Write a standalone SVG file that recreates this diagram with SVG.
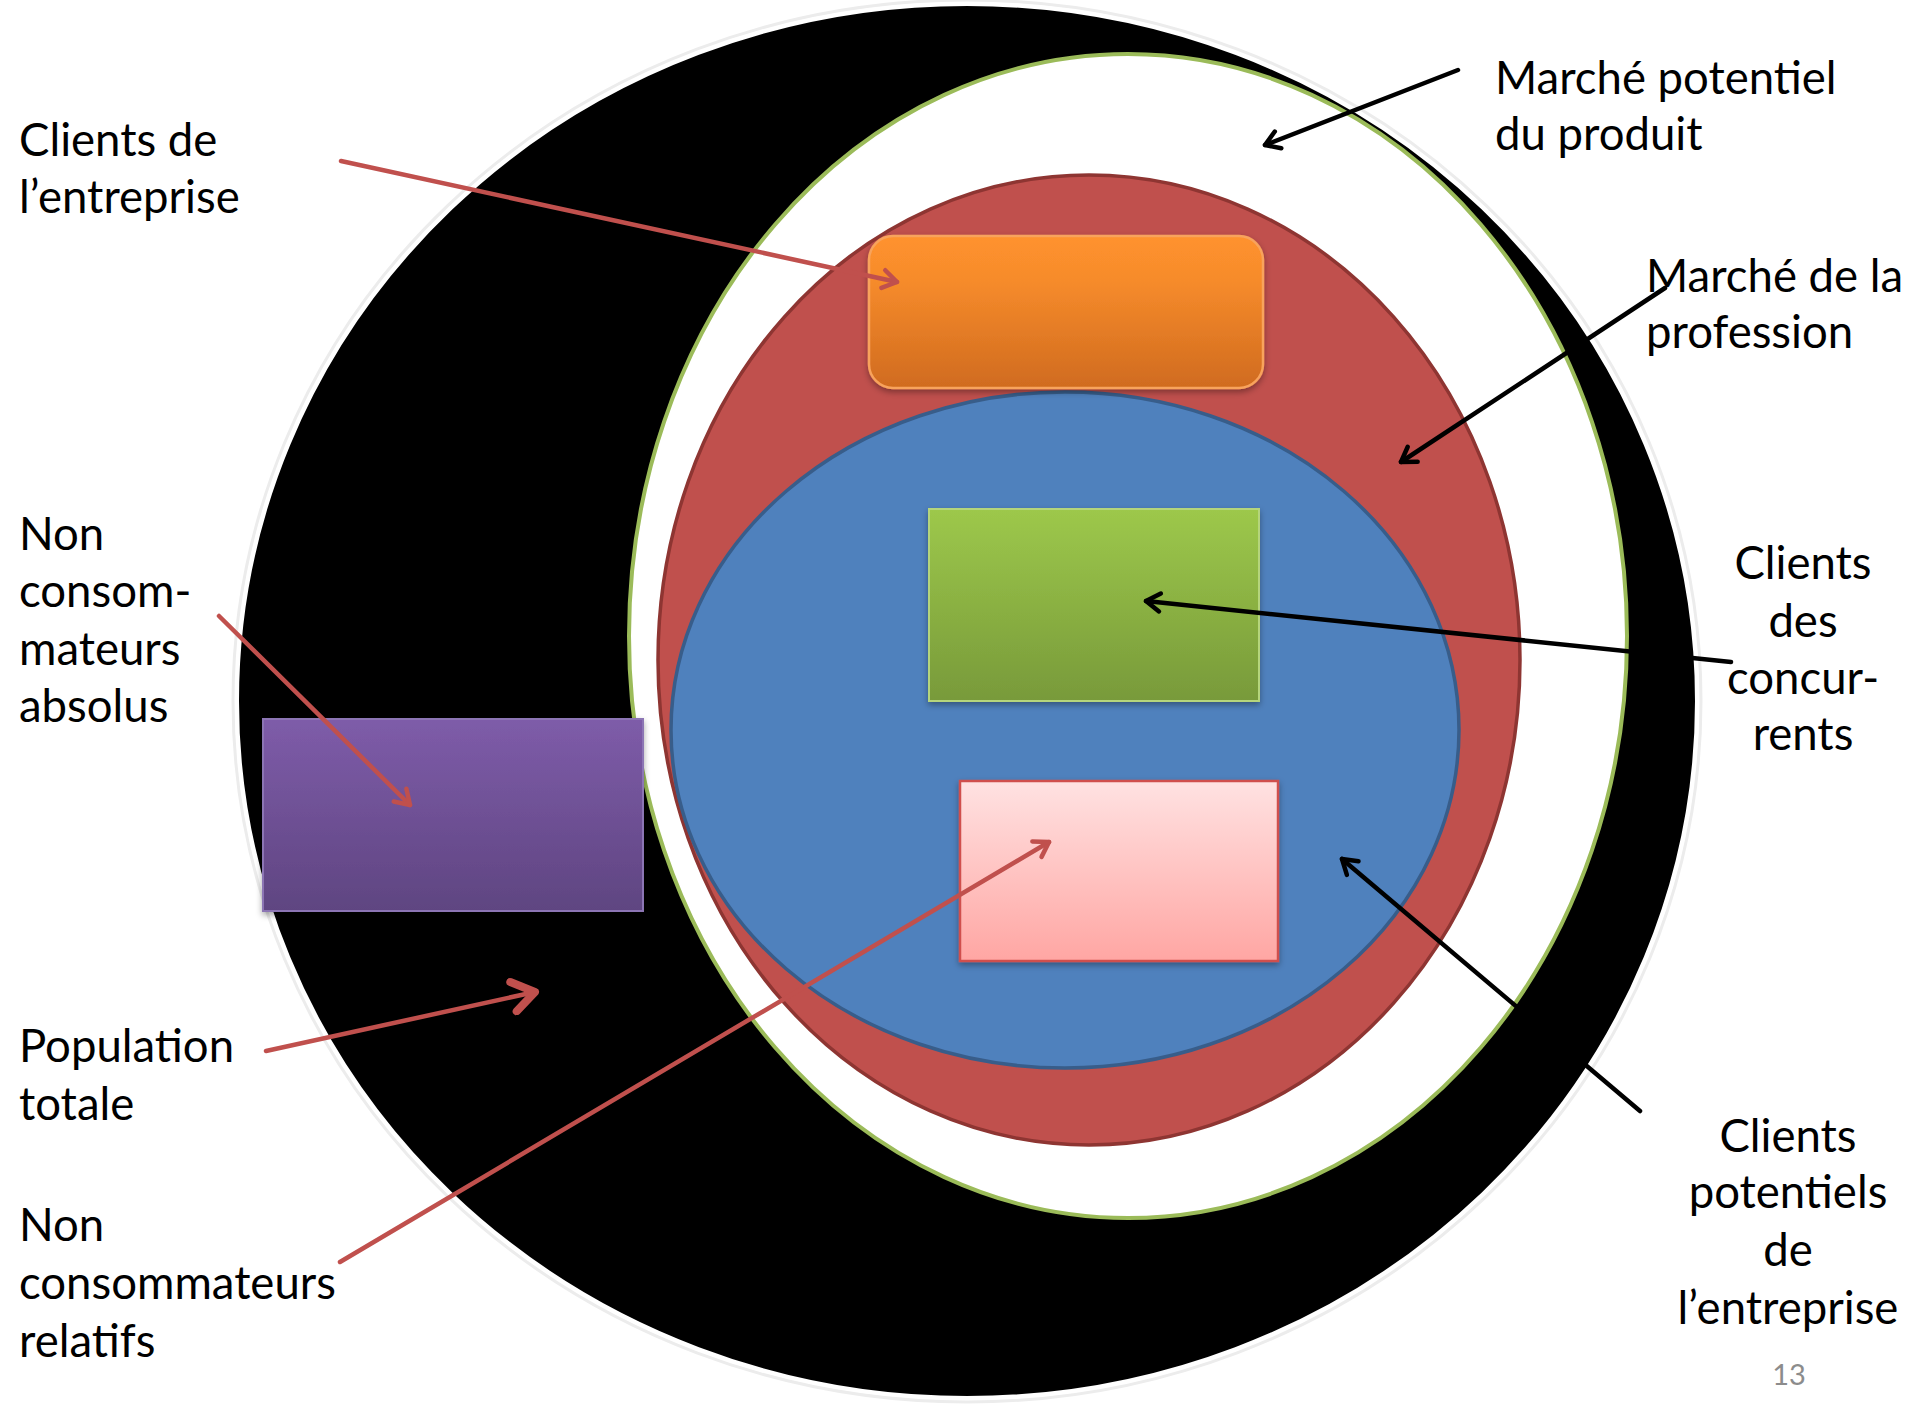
<svg xmlns="http://www.w3.org/2000/svg" width="1909" height="1404" viewBox="0 0 1909 1404">
  <defs>
    <style>
      .lbl { font-family: Lato, "Open Sans", "Liberation Sans", sans-serif; font-size: 45.5px; fill: #000; }
      .mid { text-anchor: middle; }
      .red { stroke: #C0504D; stroke-width: 4.5; fill: none; stroke-linecap: round; }
      .blk { stroke: #000; stroke-width: 4.5; fill: none; stroke-linecap: round; }
    </style>
    <linearGradient id="gOrange" x1="0" y1="0" x2="0" y2="1">
      <stop offset="0" stop-color="#FF922E"/>
      <stop offset="0.3" stop-color="#F68B2B"/>
      <stop offset="1" stop-color="#D06B1F"/>
    </linearGradient>
    <linearGradient id="gGreen" x1="0" y1="0" x2="0" y2="1">
      <stop offset="0" stop-color="#9DC84B"/>
      <stop offset="1" stop-color="#789A3A"/>
    </linearGradient>
    <linearGradient id="gPink" x1="0" y1="0" x2="0" y2="1">
      <stop offset="0" stop-color="#FFE2E2"/>
      <stop offset="1" stop-color="#FFA6A3"/>
    </linearGradient>
    <linearGradient id="gPurple" x1="0" y1="0" x2="0" y2="1">
      <stop offset="0" stop-color="#7E5CA9"/>
      <stop offset="1" stop-color="#5F4581"/>
    </linearGradient>
    <filter id="shadow" x="-10%" y="-10%" width="120%" height="130%">
      <feDropShadow dx="0" dy="3" stdDeviation="3" flood-color="#000" flood-opacity="0.35"/>
    </filter>
    <marker id="arrRed" viewBox="0 0 24 24" markerWidth="24" markerHeight="24" refX="20" refY="12" orient="auto" markerUnits="userSpaceOnUse">
      <path d="M6,3 L20,12 L6,21" fill="none" stroke="#C0504D" stroke-width="4.5" stroke-linecap="round" stroke-linejoin="round"/>
    </marker>
    <marker id="arrRedBig" viewBox="0 0 38 38" markerWidth="38" markerHeight="38" refX="32" refY="19" orient="auto" markerUnits="userSpaceOnUse">
      <path d="M10,4 L32,19 L10,34" fill="none" stroke="#C0504D" stroke-width="8" stroke-linecap="round" stroke-linejoin="round"/>
    </marker>
    <marker id="arrBlk" viewBox="0 0 24 24" markerWidth="24" markerHeight="24" refX="20" refY="12" orient="auto" markerUnits="userSpaceOnUse">
      <path d="M6,3 L20,12 L6,21" fill="none" stroke="#000" stroke-width="4.5" stroke-linecap="round" stroke-linejoin="round"/>
    </marker>
  </defs>

  <rect x="0" y="0" width="1909" height="1404" fill="#fff"/>

  <g id="population-totale">
    <ellipse cx="967" cy="701" rx="734" ry="701" fill="none" stroke="#ececec" stroke-width="3"/>
    <ellipse cx="967" cy="701" rx="730" ry="697" fill="#000" stroke="#fff" stroke-width="4"/>
  </g>

  <g id="marche-potentiel">
    <ellipse cx="1128" cy="636" rx="499" ry="582" fill="#fff" stroke="#9BBB59" stroke-width="4"/>
  </g>

  <g id="marche-profession">
    <ellipse cx="1089" cy="660" rx="431" ry="485" fill="#C0504D" stroke="#8E3532" stroke-width="3.5"/>
  </g>

  <g id="clients-potentiels">
    <ellipse cx="1065" cy="730" rx="394" ry="338" fill="#4F81BD" stroke="#385D8A" stroke-width="3.5"/>
  </g>

  <g id="clients-entreprise">
    <rect x="869" y="236" width="394" height="152" rx="24" ry="24" fill="url(#gOrange)" stroke="#F8A35C" stroke-width="2.5" filter="url(#shadow)"/>
  </g>

  <g id="clients-concurrents">
    <rect x="929" y="509" width="330" height="192" fill="url(#gGreen)" stroke="#B5D57C" stroke-width="2" filter="url(#shadow)"/>
  </g>

  <g id="non-consommateurs-relatifs">
    <rect x="960" y="781" width="318" height="180" fill="url(#gPink)" stroke="#D0504D" stroke-width="2.5" filter="url(#shadow)"/>
  </g>

  <g id="non-consommateurs-absolus">
    <rect x="263" y="719" width="380" height="192" fill="url(#gPurple)" stroke="#8C74B4" stroke-width="2" filter="url(#shadow)"/>
  </g>

  <g id="connectors">
    <line class="red" x1="341" y1="161" x2="897" y2="282" marker-end="url(#arrRed)"/>
    <line class="red" x1="219" y1="616" x2="410" y2="805" marker-end="url(#arrRed)"/>
    <line class="red" x1="266" y1="1051" x2="535" y2="992" stroke-width="8.5" marker-end="url(#arrRedBig)"/>
    <line class="red" x1="340" y1="1262" x2="1049" y2="842" marker-end="url(#arrRed)"/>
    <line class="blk" x1="1458" y1="70" x2="1265" y2="145" marker-end="url(#arrBlk)"/>
    <line class="blk" x1="1665" y1="288" x2="1401" y2="462" marker-end="url(#arrBlk)"/>
    <line class="blk" x1="1731" y1="662" x2="1146" y2="601" marker-end="url(#arrBlk)"/>
    <line class="blk" x1="1640" y1="1111" x2="1342" y2="859" marker-end="url(#arrBlk)"/>
  </g>

  <g id="labels">
    <text class="lbl" x="19" y="156">Clients de</text>
    <text class="lbl" x="19" y="213">l’entreprise</text>

    <text class="lbl" x="19" y="550">Non</text>
    <text class="lbl" x="19" y="607">consom-</text>
    <text class="lbl" x="19" y="665">mateurs</text>
    <text class="lbl" x="19" y="722">absolus</text>

    <text class="lbl" x="19" y="1062">Population</text>
    <text class="lbl" x="19" y="1120">totale</text>

    <text class="lbl" x="19" y="1241">Non</text>
    <text class="lbl" x="19" y="1299">consommateurs</text>
    <text class="lbl" x="19" y="1357">relatifs</text>

    <text class="lbl" x="1495" y="94">Marché potentiel</text>
    <text class="lbl" x="1495" y="150">du produit</text>

    <text class="lbl" x="1646" y="292">Marché de la</text>
    <text class="lbl" x="1646" y="348">profession</text>

    <text class="lbl mid" x="1803" y="579">Clients</text>
    <text class="lbl mid" x="1803" y="637">des</text>
    <text class="lbl mid" x="1803" y="694">concur-</text>
    <text class="lbl mid" x="1803" y="750">rents</text>

    <text class="lbl mid" x="1788" y="1152">Clients</text>
    <text class="lbl mid" x="1788" y="1208">potentiels</text>
    <text class="lbl mid" x="1788" y="1266">de</text>
    <text class="lbl mid" x="1788" y="1324">l’entreprise</text>

    <text x="1789" y="1385" style="font-family: Lato, 'Liberation Sans', sans-serif; font-size: 29px; fill: #8C8C8C; text-anchor: middle;">13</text>
  </g>
</svg>
